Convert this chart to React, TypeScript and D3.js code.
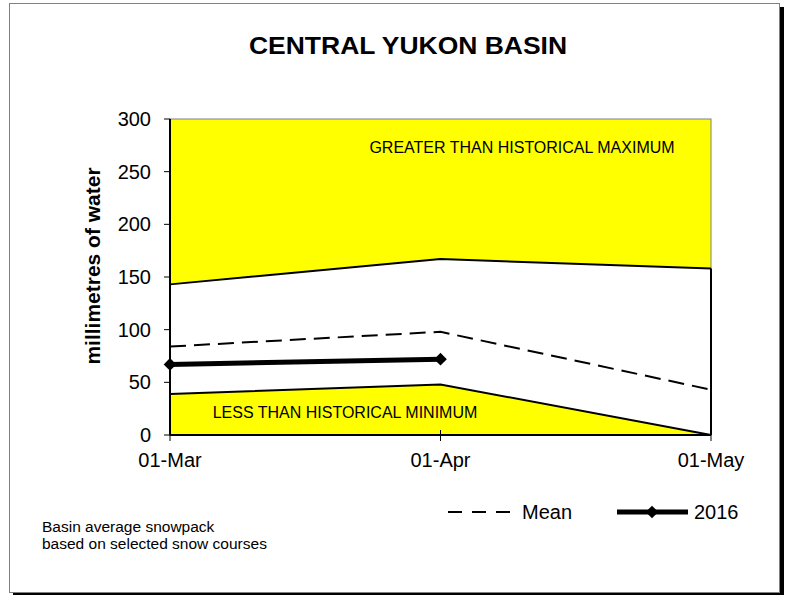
import React from 'react';
import * as d3 from 'd3';

// snowpack survey dates
const dates = ['01-Mar', '01-Apr', '01-May'];
// historical bounds and mean (mm of water)
const histMax = [143, 167, 158];
const histMin = [39, 48, 0];
const meanVals = [84, 98, 43];
// current year, only surveyed so far
const year2016 = [67, 72];
const yTicks = [0, 50, 100, 150, 200, 250, 300];

const W = 791;
const H = 596;
const font = 'Arial, "Liberation Sans", sans-serif';

export default function App() {
  const left = 170, right = 711, top = 119, bottom = 435;
  const x = d3.scalePoint<string>().domain(dates).range([left, right]);
  const y = d3.scaleLinear().domain([0, 300]).range([bottom, top]);

  const pts = (vals: number[]) => vals.map((v, i) => [x(dates[i]) as number, y(v)] as [number, number]);
  const line = d3.line<[number, number]>();

  const band = d3.area<number>()
    .x((d, i) => x(dates[i]) as number)
    .y0((d, i) => y(histMin[i]))
    .y1((d) => y(d));
  const lowArea = d3.area<number>()
    .x((d, i) => x(dates[i]) as number)
    .y0(y(0))
    .y1((d) => y(d));

  const marker = d3.symbol().type(d3.symbolSquare).size(80)();

  return (
    <svg width={W} height={H} style={{ position: 'absolute', left: 0, top: 0 }}>
      <rect x={0} y={0} width={W} height={H} fill="#fff" />
      {/* frame with shadow */}
      <rect x={13} y={7} width={771} height={588} fill="#000" />
      <rect x={9.5} y={3.5} width={770} height={589} fill="#fff" stroke="#808080" strokeWidth={1} />

      <text x={408} y={54} textAnchor="middle" fontFamily={font} fontWeight="bold" fontSize={24} textLength={318} lengthAdjust="spacingAndGlyphs">CENTRAL YUKON BASIN</text>

      {/* plot background */}
      <rect x={left} y={top} width={right - left} height={bottom - top} fill="#ffff00" stroke="#808080" strokeWidth={1} />
      <path d={band(histMax) || ''} fill="#fff" />
      <path d={lowArea(histMin) || ''} fill="#ffff00" />

      <path d={line(pts(histMax)) || ''} fill="none" stroke="#000" strokeWidth={2} />
      <path d={line(pts(histMin)) || ''} fill="none" stroke="#000" strokeWidth={2} />
      <line x1={right} x2={right} y1={y(histMax[2])} y2={bottom} stroke="#000" strokeWidth={2} />
      <path d={line(pts(meanVals)) || ''} fill="none" stroke="#000" strokeWidth={2} strokeDasharray="16,8" />
      <path d={line(pts(year2016)) || ''} fill="none" stroke="#000" strokeWidth={5} />
      {pts(year2016).map((p, i) => (
        <path key={i} d={marker || ''} transform={`translate(${p[0]},${p[1]}) rotate(45)`} fill="#000" />
      ))}

      <text x={522} y={153} textAnchor="middle" fontFamily={font} fontSize={16}>GREATER THAN HISTORICAL MAXIMUM</text>
      <text x={345} y={418} textAnchor="middle" fontFamily={font} fontSize={16}>LESS THAN HISTORICAL MINIMUM</text>

      {/* axes */}
      <line x1={left} x2={left} y1={top} y2={bottom} stroke="#000" strokeWidth={2} />
      <line x1={left} x2={right} y1={bottom} y2={bottom} stroke="#000" strokeWidth={2} />
      {yTicks.map((t) => (
        <g key={t}>
          <line x1={left - 6} x2={left} y1={y(t)} y2={y(t)} stroke="#000" />
          <text x={151} y={y(t) + 7} textAnchor="end" fontFamily={font} fontSize={20}>{t}</text>
        </g>
      ))}
      {dates.map((d) => (
        <g key={d}>
          <line x1={x(d)} x2={x(d)} y1={bottom - 5} y2={bottom + 6} stroke="#000" />
          <text x={x(d)} y={467} textAnchor="middle" fontFamily={font} fontSize={20}>{d}</text>
        </g>
      ))}
      <text transform="translate(100,266) rotate(-90)" textAnchor="middle" fontFamily={font} fontWeight="bold" fontSize={21}>millimetres of water</text>

      {/* legend */}
      <line x1={448} x2={515} y1={512} y2={512} stroke="#000" strokeWidth={2} strokeDasharray="14,10" />
      <text x={522} y={519} fontFamily={font} fontSize={20}>Mean</text>
      <line x1={617} x2={688} y1={512} y2={512} stroke="#000" strokeWidth={5} />
      <path d={marker || ''} transform="translate(652,512) rotate(45)" fill="#000" />
      <text x={694} y={519} fontFamily={font} fontSize={20}>2016</text>

      <text x={42} y={532} fontFamily={font} fontSize={15.5}>Basin average snowpack</text>
      <text x={42} y={549} fontFamily={font} fontSize={15.5}>based on selected snow courses</text>
    </svg>
  );
}
